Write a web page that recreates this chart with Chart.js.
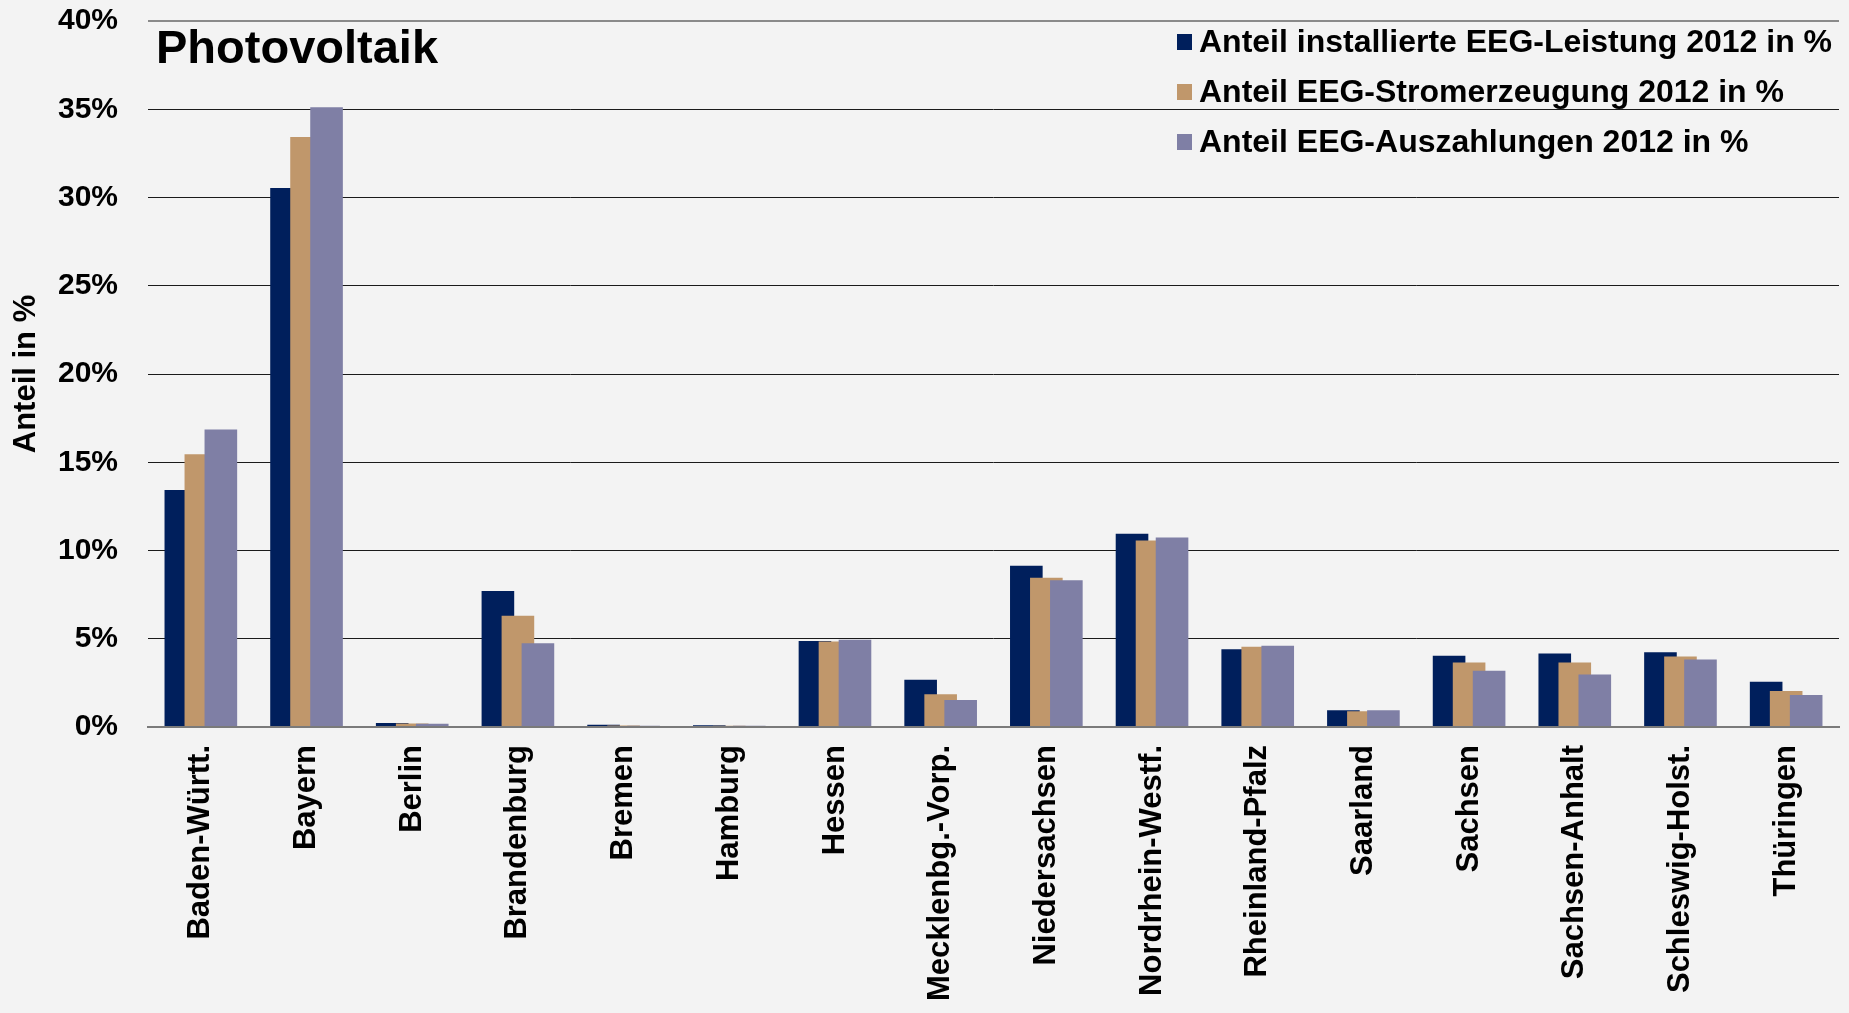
<!DOCTYPE html>
<html lang="de">
<head>
<meta charset="utf-8">
<title>Photovoltaik</title>
<script src="https://cdn.jsdelivr.net/npm/chart.js@4.4.1/dist/chart.umd.min.js"></script>
<style>
  html, body { margin: 0; padding: 0; background: #f3f3f3; }
  #wrap { position: relative; width: 1849px; height: 1013px; }
</style>
</head>
<body>
<div id="wrap"><canvas id="myChart"></canvas></div>
<script>
'use strict';

// data
let laender = ['Baden-Württ.', 'Bayern', 'Berlin', 'Brandenburg', 'Bremen', 'Hamburg', 'Hessen',
  'Mecklenbg.-Vorp.', 'Niedersachsen', 'Nordrhein-Westf.', 'Rheinland-Pfalz', 'Saarland',
  'Sachsen', 'Sachsen-Anhalt', 'Schleswig-Holst.', 'Thüringen'];
let leistung = [13.43, 30.54, 0.22, 7.7, 0.13, 0.1, 4.87, 2.68, 9.14, 10.95, 4.4, 0.95, 4.04, 4.16, 4.23, 2.57];
let stromerzeugung = [15.45, 33.43, 0.2, 6.31, 0.08, 0.07, 4.85, 1.85, 8.46, 10.57, 4.55, 0.89, 3.65, 3.65, 3.99, 2.04];
let auszahlungen = [16.85, 35.11, 0.19, 4.74, 0.07, 0.07, 4.95, 1.53, 8.31, 10.74, 4.61, 0.95, 3.19, 2.97, 3.83, 1.81];
let seriesNames = ['Anteil installierte EEG-Leistung 2012 in %', 'Anteil EEG-Stromerzeugung 2012 in %', 'Anteil EEG-Auszahlungen 2012 in %'];
let yTicks = [0, 5, 10, 15, 20, 25, 30, 35, 40];
let chartTitle = 'Photovoltaik';
let yTitle = 'Anteil in %';

let colors = ['#001f5c', '#c0976b', '#7f7fa5'];
let font = '"Liberation Sans", Arial, sans-serif';

// later series sit on top of earlier ones (bars overlap like in the original)
const drawInOrder = {
  id: 'drawInOrder',
  beforeDatasetsDraw(chart) {
    chart.getSortedVisibleDatasetMetas().forEach(m => m.controller.draw());
    return false;
  }
};

// title and legend inside the plot
const overlay = {
  id: 'overlay',
  afterDraw(chart) {
    let ctx = chart.ctx;
    ctx.save();
    ctx.fillStyle = '#000';
    ctx.textBaseline = 'alphabetic';
    ctx.textAlign = 'left';
    ctx.font = 'bold 47px ' + font;
    ctx.fillText(chartTitle, 156, 63);
    ctx.font = 'bold 32px ' + font;
    ctx.textBaseline = 'middle';
    chart.data.datasets.forEach((ds, i) => {
      let y = 42 + i * 50;
      ctx.fillStyle = ds.backgroundColor;
      ctx.fillRect(1177, y - 8, 15, 16);
      ctx.fillStyle = '#000';
      ctx.fillText(ds.label, 1199, y + 1);
    });
    ctx.restore();
  }
};

let chartObject = {
  type: 'bar',
  data: {
    labels: laender,
    datasets: [
      { label: seriesNames[0], data: leistung, backgroundColor: colors[0] },
      { label: seriesNames[1], data: stromerzeugung, backgroundColor: colors[1] },
      { label: seriesNames[2], data: auszahlungen, backgroundColor: colors[2] }
    ]
  },
  options: {
    responsive: true,
    maintainAspectRatio: false,
    animation: false,
    layout: { padding: { top: 21, right: 10, left: 0, bottom: 0 } },
    datasets: {
      bar: {
        categoryPercentage: 0.568,
        barPercentage: 1.63,
        borderWidth: 0
      }
    },
    plugins: {
      legend: { display: false },
      tooltip: { enabled: false }
    },
    scales: {
      x: {
        grid: { display: false, drawTicks: false },
        border: { display: true, color: '#7a7a7a', width: 2 },
        ticks: {
          color: '#000',
          font: { family: font, size: 31, weight: 'bold' },
          minRotation: 90,
          maxRotation: 90,
          autoSkip: false,
          padding: 18
        },
        afterFit(scale) { scale.height = 286; }
      },
      y: {
        min: 0,
        max: 40,
        afterBuildTicks(scale) { scale.ticks = yTicks.map(v => ({ value: v })); },
        grid: {
          drawTicks: false,
          color: ctx => (ctx.tick.value === 40 ? '#8a8a8a' : ctx.tick.value === 0 ? '#7a7a7a' : '#1a1a1a'),
          lineWidth: ctx => (ctx.tick.value === 40 ? 2 : ctx.tick.value === 0 ? 2 : 1)
        },
        border: { display: false },
        ticks: {
          color: '#000',
          font: { family: font, size: 30, weight: 'bold' },
          padding: 30,
          callback: v => v + '%'
        },
        title: {
          display: true,
          text: yTitle,
          color: '#000',
          font: { family: font, size: 31, weight: 'bold' },
          padding: { top: 8, bottom: 0 }
        },
        afterFit(scale) {
          scale.width = 148;
          scale.paddingTop = 0;
          scale.paddingBottom = 0;
        }
      }
    }
  },
  plugins: [drawInOrder, overlay]
};

let ctx = document.getElementById('myChart').getContext('2d');
let myChart = new Chart(ctx, chartObject);
</script>
</body>
</html>
